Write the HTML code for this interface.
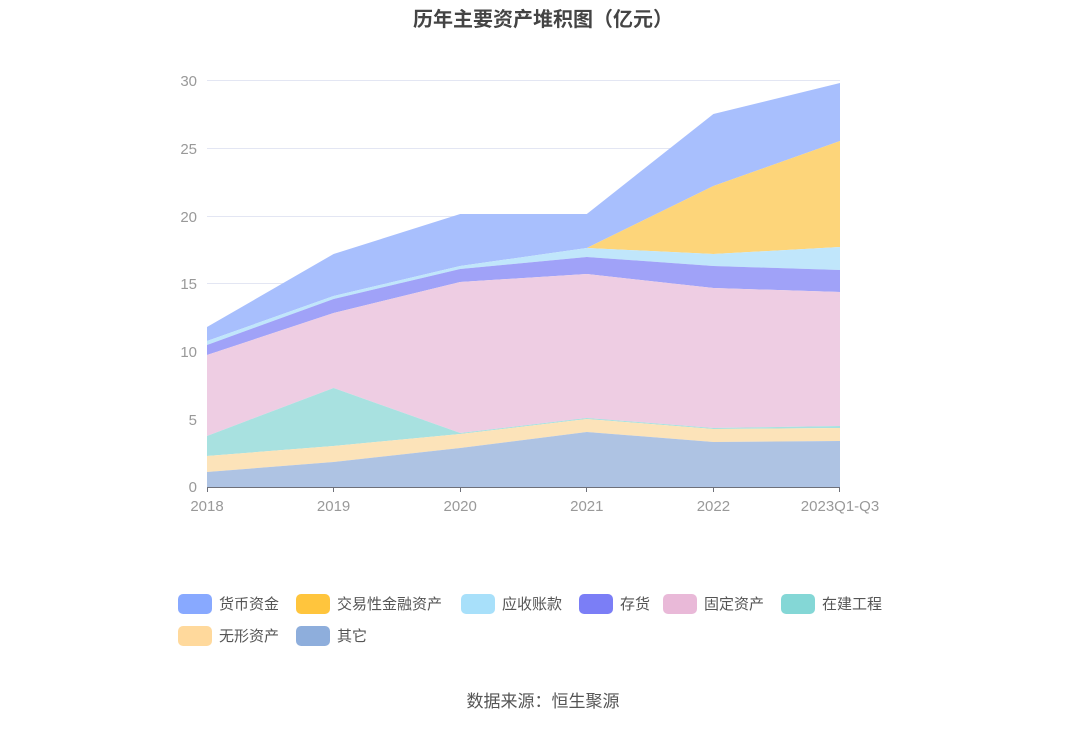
<!DOCTYPE html>
<html><head><meta charset="utf-8"><style>
body{margin:0;background:#fff;font-family:"Liberation Sans","Noto Sans CJK SC",sans-serif;}
</style></head><body>
<svg width="1086" height="728" xmlns="http://www.w3.org/2000/svg" font-family="Liberation Sans, Noto Sans CJK SC, sans-serif">
<text x="543" y="26" text-anchor="middle" font-size="20" font-weight="bold" fill="#444">历年主要资产堆积图（亿元）</text>
<g stroke="#e3e6f3" stroke-width="1">
<line x1="207" y1="80.5" x2="840" y2="80.5"/><line x1="207" y1="148.5" x2="840" y2="148.5"/>
<line x1="207" y1="216.5" x2="840" y2="216.5"/><line x1="207" y1="283.5" x2="840" y2="283.5"/>
<line x1="207" y1="351.5" x2="840" y2="351.5"/><line x1="207" y1="419.5" x2="840" y2="419.5"/>
</g>
<g font-size="15" fill="#999" text-anchor="end">
<text x="197" y="86">30</text><text x="197" y="154">25</text><text x="197" y="222">20</text>
<text x="197" y="289">15</text><text x="197" y="357">10</text><text x="197" y="425">5</text><text x="197" y="492">0</text>
</g>
<!-- X: 207,333.6,460.2,586.8,713.4,840 -->
<polygon fill="#a8bffd" points="207,327 333.6,254 460.2,214 586.8,214 713.4,114 840,83 840,141 713.4,186 586.8,248 460.2,266 333.6,296 207,341"/>
<polygon fill="#fdd57a" points="586.8,248 713.4,186 840,141 840,247 713.4,254 586.8,248"/>
<polygon fill="#c0e6fb" points="207,341 333.6,296 460.2,266 586.8,248 713.4,254 840,247 840,270 713.4,266 586.8,257 460.2,269 333.6,299 207,345"/>
<polygon fill="#a0a2f8" points="207,345 333.6,299 460.2,269 586.8,257 713.4,266 840,270 840,292 713.4,288 586.8,274 460.2,282 333.6,313 207,355"/>
<polygon fill="#eecde3" points="207,355 333.6,313 460.2,282 586.8,274 713.4,288 840,292 840,426 713.4,428 586.8,418 460.2,433 333.6,388 207,436"/>
<polygon fill="#a8e1e0" points="207,436 333.6,388 460.2,433 586.8,418 713.4,428 840,426 840,428 713.4,429 586.8,419 460.2,434 333.6,446 207,456"/>
<polygon fill="#fce3b9" points="207,456 333.6,446 460.2,434 586.8,419 713.4,429 840,428 840,441 713.4,442 586.8,432 460.2,448 333.6,462 207,472"/>
<polygon fill="#aec3e3" points="207,472 333.6,462 460.2,448 586.8,432 713.4,442 840,441 840,487 207,487"/>
<line x1="207" y1="487.5" x2="840" y2="487.5" stroke="#6e7079" stroke-width="1"/>
<g stroke="#6e7079"><line x1="207.5" y1="487" x2="207.5" y2="492"/><line x1="333.5" y1="487" x2="333.5" y2="492"/><line x1="460.5" y1="487" x2="460.5" y2="492"/><line x1="586.5" y1="487" x2="586.5" y2="492"/><line x1="713.5" y1="487" x2="713.5" y2="492"/><line x1="839.5" y1="487" x2="839.5" y2="492"/></g>
<g font-size="15" fill="#999" text-anchor="middle">
<text x="207" y="511">2018</text><text x="333.6" y="511">2019</text><text x="460.2" y="511">2020</text>
<text x="586.8" y="511">2021</text><text x="713.4" y="511">2022</text><text x="840" y="511">2023Q1-Q3</text>
</g>
<g font-size="15" fill="#555">
<rect x="178" y="594" width="34" height="20" rx="5" fill="#88a9ff"/><text x="219" y="609">货币资金</text>
<rect x="296" y="594" width="34" height="20" rx="5" fill="#ffc53d"/><text x="337" y="609">交易性金融资产</text>
<rect x="461" y="594" width="34" height="20" rx="5" fill="#a8e0fa"/><text x="502" y="609">应收账款</text>
<rect x="579" y="594" width="34" height="20" rx="5" fill="#7b7ef6"/><text x="620" y="609">存货</text>
<rect x="663" y="594" width="34" height="20" rx="5" fill="#e9b9d8"/><text x="704" y="609">固定资产</text>
<rect x="781" y="594" width="34" height="20" rx="5" fill="#84d7d6"/><text x="822" y="609">在建工程</text>
<rect x="178" y="626" width="34" height="20" rx="5" fill="#ffd99c"/><text x="219" y="641">无形资产</text>
<rect x="296" y="626" width="34" height="20" rx="5" fill="#8eaedc"/><text x="337" y="641">其它</text>
</g>
<text x="543" y="707" text-anchor="middle" font-size="17" fill="#555">数据来源：恒生聚源</text>
</svg>
</body></html>
